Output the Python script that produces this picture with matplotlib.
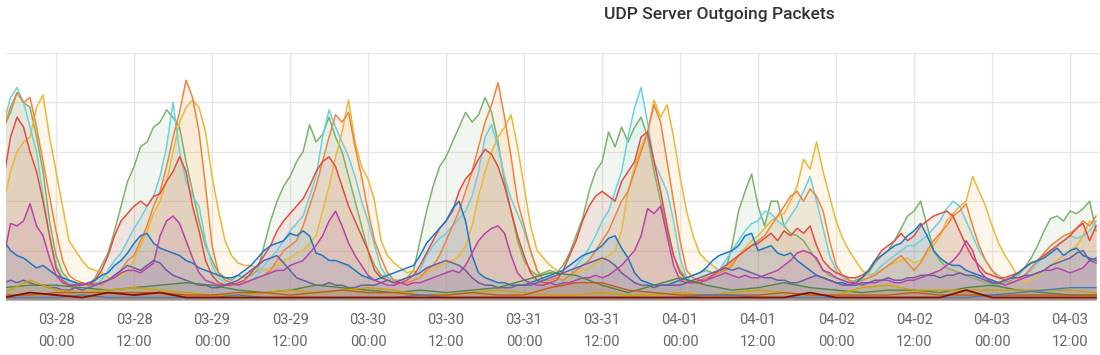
import numpy as np
import matplotlib.pyplot as plt

plt.rcParams['font.family'] = ['Roboto', 'DejaVu Sans']

# hourly samples, hours counted from 03-28 00:00
hours = np.arange(-8, 161)
hours_4h = np.arange(-8, 161, 4)

green = [3.5, 3.8, 4.2, 4.0, 3.9, 3.3, 2.6, 1.6,
         0.9, 0.55, 0.4, 0.35, 0.3, 0.3, 0.45, 0.7, 0.95, 1.4, 1.9, 2.4,
         2.7, 3.1, 3.2, 3.5, 3.6, 3.85, 3.7, 3.5, 2.8, 2.2, 1.6, 1.1,
         0.8, 0.55, 0.45, 0.4, 0.5, 0.45, 0.5, 0.6, 1.1, 1.6, 2.0, 2.3,
         2.5, 2.8, 3.0, 3.55, 3.2, 3.35, 3.7, 3.3, 3.0, 2.5, 2.0, 1.5,
         1.0, 0.7, 0.5, 0.45, 0.4, 0.4, 0.45, 0.6, 1.2, 1.8, 2.3, 2.7,
         2.9, 3.2, 3.5, 3.8, 3.6, 3.75, 4.1, 3.8, 3.2, 2.4, 1.8, 1.2,
         0.8, 0.6, 0.5, 0.55, 0.6, 0.55, 0.7, 0.95, 1.3, 1.65, 2.2, 2.6,
         2.8, 3.4, 3.1, 3.5, 3.2, 3.5, 3.7, 3.3, 2.6, 2.0, 1.4, 0.9,
         0.6, 0.45, 0.5, 0.55, 0.6, 0.55, 0.6, 0.6, 1.1, 1.8, 2.2, 2.55,
         1.9, 1.5, 2.0, 2.0, 1.5, 1.35, 1.3, 1.2, 1.0, 0.8, 0.6, 0.5,
         0.45, 0.4, 0.35, 0.4, 0.45, 0.55, 0.75, 0.9, 1.0, 1.2, 1.45, 1.7,
         1.8, 2.0, 1.5, 1.0, 0.8, 0.65, 0.6, 0.55, 0.5, 0.45, 0.4, 0.35,
         0.35, 0.3, 0.35, 0.4, 0.5, 0.65, 0.85, 1.1, 1.4, 1.65, 1.7, 1.6,
         1.8, 1.75, 1.85, 2.0, 1.4]

yellow = [2.0, 2.6, 3.0, 3.2, 3.3, 3.9, 4.15, 3.3,
          2.6, 1.9, 1.2, 1.0, 0.8, 0.65, 0.6, 0.55, 0.45, 0.45, 0.5, 0.6,
          0.8, 1.1, 1.4, 1.75, 2.0, 2.4, 3.0, 3.6, 3.9, 4.05, 3.9, 3.4,
          2.5, 1.8, 1.2, 0.9, 0.75, 0.7, 0.7, 0.65, 0.6, 0.65, 0.7, 0.8,
          0.85, 0.95, 1.0, 1.15, 1.3, 1.8, 2.3, 2.9, 3.4, 4.05, 3.2, 2.7,
          2.45, 2.0, 1.2, 0.9, 0.75, 0.65, 0.55, 0.6, 0.5, 0.55, 0.6, 0.7,
          0.75, 0.8, 0.9, 1.1, 1.5, 2.1, 2.6, 3.0, 3.3, 3.5, 3.75, 3.1,
          2.3, 1.5, 1.0, 0.85, 0.7, 0.6, 0.55, 0.5, 0.55, 0.6, 0.65, 0.75,
          0.8, 0.9, 1.0, 1.4, 2.2, 2.7, 3.1, 3.4, 4.05, 3.7, 3.95, 3.3,
          2.5, 1.8, 1.3, 0.95, 0.8, 0.7, 0.6, 0.65, 0.75, 0.9, 1.05, 1.2,
          1.3, 1.45, 1.6, 1.7, 1.75, 2.0, 2.3, 2.85, 2.65, 3.2, 2.6, 2.1,
          1.6, 1.25, 1.0, 0.8, 0.6, 0.5, 0.55, 0.6, 0.7, 0.75, 0.8, 0.85,
          0.75, 0.8, 0.95, 1.1, 1.3, 1.6, 1.75, 1.9, 2.0, 2.5, 2.2, 1.9,
          1.5, 1.15, 0.9, 0.7, 0.45, 0.35, 0.4, 0.5, 0.6, 0.7, 0.8, 0.9,
          1.0, 1.1, 1.3, 1.6, 1.5]

cyan = [3.6, 4.1, 4.3, 4.0, 3.5, 3.0, 2.1, 1.3,
        0.7, 0.45, 0.35, 0.3, 0.3, 0.3, 0.3, 0.4, 0.6, 0.8, 0.95, 1.2,
        1.45, 1.65, 1.9, 2.1, 2.5, 3.1, 4.0, 3.0, 2.4, 2.1, 1.9, 1.2,
        0.7, 0.45, 0.35, 0.3, 0.3, 0.35, 0.4, 0.5, 0.7, 0.85, 1.0, 1.2,
        1.4, 1.55, 1.7, 2.1, 2.5, 3.3, 3.85, 3.5, 3.2, 2.9, 2.5, 2.0,
        1.6, 1.1, 0.65, 0.45, 0.4, 0.35, 0.35, 0.4, 0.6, 0.9, 1.1, 1.25,
        1.35, 1.5, 1.65, 1.8, 2.1, 2.6, 3.3, 3.55, 3.1, 2.5, 2.05, 1.75,
        1.4, 1.0, 0.6, 0.4, 0.35, 0.35, 0.4, 0.5, 0.7, 0.85, 1.05, 1.3,
        1.6, 1.8, 2.2, 2.6, 3.3, 3.9, 4.3, 3.6, 2.8, 2.5, 2.2, 1.6,
        0.85, 0.45, 0.35, 0.35, 0.4, 0.45, 0.6, 0.8, 1.0, 1.2, 1.4, 1.55,
        1.6, 1.8, 1.75, 1.6, 1.5, 1.7, 1.9, 2.2, 2.5, 2.0, 1.45, 0.9,
        0.6, 0.45, 0.4, 0.35, 0.4, 0.45, 0.55, 0.7, 0.8, 0.9, 1.0, 1.1,
        1.1, 1.2, 1.3, 1.45, 1.6, 1.85, 2.0, 1.9, 1.6, 1.3, 1.0, 0.8,
        0.6, 0.5, 0.4, 0.35, 0.4, 0.5, 0.6, 0.75, 0.9, 1.0, 1.1, 1.2,
        1.3, 1.25, 1.3, 1.4, 1.6]

orange = [3.5, 3.9, 4.2, 4.0, 4.1, 3.5, 2.8, 2.1,
          1.4, 0.8, 0.5, 0.4, 0.35, 0.3, 0.35, 0.3, 0.4, 0.5, 0.6, 0.8,
          0.9, 1.2, 1.5, 1.9, 2.2, 2.7, 3.3, 3.8, 4.45, 4.1, 3.4, 2.3,
          1.1, 0.55, 0.4, 0.35, 0.3, 0.35, 0.4, 0.45, 0.5, 0.6, 0.8, 1.0,
          1.1, 1.2, 1.5, 1.9, 2.3, 2.8, 3.3, 3.75, 3.6, 3.8, 3.1, 2.5,
          1.8, 1.2, 0.85, 0.55, 0.4, 0.35, 0.35, 0.4, 0.45, 0.6, 0.7, 0.9,
          1.2, 1.5, 1.8, 2.2, 2.6, 3.1, 3.6, 3.95, 4.4, 3.7, 2.9, 2.0,
          1.5, 1.0, 0.6, 0.4, 0.4, 0.45, 0.4, 0.5, 0.6, 0.7, 0.8, 1.0,
          1.2, 1.4, 1.7, 2.0, 2.2, 2.6, 3.0, 3.4, 3.95, 3.6, 2.8, 2.0,
          1.2, 0.6, 0.45, 0.4, 0.45, 0.5, 0.55, 0.6, 0.7, 0.9, 1.0, 1.1,
          1.2, 1.3, 1.5, 1.7, 1.9, 2.1, 2.2, 2.0, 2.25, 2.1, 1.8, 1.2,
          0.7, 0.5, 0.4, 0.35, 0.4, 0.45, 0.5, 0.6, 0.7, 0.8, 0.9, 0.75,
          0.6, 0.75, 1.0, 1.2, 1.35, 1.5, 1.7, 1.8, 1.95, 1.5, 1.1, 0.8,
          0.6, 0.45, 0.4, 0.35, 0.4, 0.5, 0.65, 0.8, 0.95, 1.1, 1.2, 1.3,
          1.35, 1.45, 1.6, 1.5, 1.7]

red = [2.5, 3.3, 3.7, 3.5, 3.0, 2.6, 2.0, 1.3,
       0.65, 0.4, 0.3, 0.3, 0.35, 0.3, 0.4, 0.6, 0.9, 1.3, 1.6, 1.75,
       1.9, 2.0, 1.9, 2.1, 2.15, 2.4, 2.6, 2.9, 2.6, 1.9, 1.4, 0.8,
       0.5, 0.35, 0.3, 0.3, 0.35, 0.4, 0.55, 0.7, 0.9, 1.1, 1.4, 1.6,
       1.75, 1.9, 2.05, 2.3, 2.6, 2.8, 2.9, 2.7, 2.3, 1.9, 1.6, 1.3,
       1.0, 0.6, 0.45, 0.4, 0.35, 0.35, 0.4, 0.5, 0.7, 0.95, 1.2, 1.45,
       1.6, 1.8, 2.2, 2.45, 2.6, 2.85, 3.05, 2.95, 2.7, 2.3, 1.8, 1.3,
       0.9, 0.55, 0.4, 0.35, 0.35, 0.4, 0.6, 0.9, 1.2, 1.6, 1.9, 2.1,
       2.2, 2.1, 2.0, 2.4, 2.6, 2.8, 3.3, 3.4, 2.8, 2.2, 1.5, 0.9,
       0.55, 0.4, 0.35, 0.35, 0.4, 0.5, 0.6, 0.7, 0.8, 0.9, 1.0, 1.1,
       1.15, 1.25, 1.35, 1.2, 1.4, 1.3, 1.45, 1.35, 1.5, 1.1, 0.8, 0.65,
       0.55, 0.5, 0.45, 0.45, 0.5, 0.6, 0.8, 1.0, 1.1, 1.2, 1.35, 1.2,
       1.3, 1.5, 1.6, 1.7, 1.75, 1.8, 1.7, 1.4, 1.1, 0.85, 0.7, 0.55,
       0.5, 0.45, 0.45, 0.5, 0.55, 0.65, 0.75, 0.8, 0.9, 1.0, 1.1, 1.2,
       1.3, 1.45, 1.55, 1.2, 1.5]

blue = [1.2, 1.0, 0.9, 0.85, 0.75, 0.65, 0.7, 0.6,
        0.5, 0.45, 0.4, 0.35, 0.3, 0.35, 0.4, 0.5, 0.55, 0.7, 0.8, 0.95,
        1.15, 1.3, 1.35, 1.15, 1.05, 1.0, 0.95, 0.9, 0.8, 0.75, 0.65, 0.6,
        0.55, 0.5, 0.45, 0.45, 0.5, 0.6, 0.7, 0.85, 1.0, 1.1, 1.15, 1.2,
        1.35, 1.3, 1.4, 1.3, 0.95, 0.9, 0.8, 0.8, 0.75, 0.7, 0.6, 0.5,
        0.45, 0.4, 0.45, 0.5, 0.55, 0.6, 0.65, 0.7, 0.9, 1.15, 1.3, 1.45,
        1.6, 1.85, 2.0, 1.6, 0.9, 0.55, 0.45, 0.4, 0.35, 0.35, 0.3, 0.3,
        0.3, 0.35, 0.4, 0.45, 0.5, 0.55, 0.6, 0.7, 0.8, 0.9, 0.95, 1.0,
        1.1, 1.25, 1.3, 1.05, 0.85, 0.55, 0.4, 0.35, 0.3, 0.3, 0.3, 0.35,
        0.4, 0.45, 0.5, 0.55, 0.65, 0.8, 0.9, 0.95, 1.0, 1.1, 1.3, 1.35,
        1.0, 1.05, 1.1, 0.95, 0.9, 0.95, 0.8, 0.7, 0.6, 0.5, 0.45, 0.4,
        0.35, 0.35, 0.3, 0.35, 0.45, 0.6, 0.8, 0.9, 1.0, 1.1, 1.15, 1.3,
        1.4, 1.55, 1.3, 1.0, 0.85, 0.75, 0.7, 0.7, 0.6, 0.55, 0.5, 0.45,
        0.4, 0.35, 0.4, 0.45, 0.55, 0.65, 0.75, 0.8, 0.85, 0.95, 1.05, 0.9,
        1.0, 1.05, 0.9, 0.85, 0.8]

magenta = [0.9, 1.55, 1.5, 1.6, 1.95, 1.5, 1.3, 0.85,
           0.5, 0.35, 0.3, 0.3, 0.3, 0.35, 0.3, 0.35, 0.4, 0.45, 0.55, 0.6,
           0.6, 0.55, 0.65, 0.75, 1.3, 1.6, 1.7, 1.55, 1.2, 0.85, 0.55, 0.4,
           0.35, 0.3, 0.3, 0.35, 0.3, 0.35, 0.4, 0.45, 0.5, 0.55, 0.6, 0.6,
           0.7, 0.75, 0.8, 0.95, 1.1, 1.3, 1.6, 1.8, 1.5, 1.15, 0.9, 0.7,
           0.5, 0.4, 0.35, 0.3, 0.3, 0.35, 0.3, 0.35, 0.35, 0.4, 0.45, 0.5,
           0.55, 0.6, 0.55, 0.7, 0.95, 1.2, 1.35, 1.45, 1.5, 1.35, 0.9, 0.55,
           0.4, 0.35, 0.3, 0.3, 0.35, 0.3, 0.35, 0.35, 0.4, 0.45, 0.45, 0.5,
           0.45, 0.5, 0.6, 0.7, 0.85, 1.0, 1.3, 1.85, 1.75, 1.9, 1.3, 0.7,
           0.4, 0.35, 0.35, 0.4, 0.4, 0.45, 0.5, 0.55, 0.5, 0.45, 0.5, 0.45,
           0.45, 0.5, 0.55, 0.6, 0.7, 0.8, 0.95, 1.0, 0.95, 0.85, 0.6, 0.55,
           0.45, 0.4, 0.35, 0.35, 0.3, 0.35, 0.35, 0.4, 0.4, 0.35, 0.35, 0.4,
           0.4, 0.45, 0.5, 0.55, 0.6, 0.7, 0.8, 0.95, 1.2, 1.0, 0.6, 0.45,
           0.35, 0.35, 0.3, 0.35, 0.4, 0.45, 0.5, 0.55, 0.6, 0.6, 0.65, 0.6,
           0.55, 0.6, 0.65, 0.8, 0.75]

purple = [0.35, 0.4, 0.35, 0.4, 0.35, 0.3, 0.3, 0.25,
          0.25, 0.2, 0.2, 0.25, 0.2, 0.25, 0.3, 0.35, 0.4, 0.5, 0.6, 0.7,
          0.65, 0.6, 0.7, 0.8, 0.75, 0.6, 0.5, 0.45, 0.4, 0.35, 0.3, 0.3,
          0.25, 0.25, 0.3, 0.35, 0.4, 0.5, 0.6, 0.7, 0.8, 0.85, 0.9, 0.75,
          0.6, 0.45, 0.4, 0.35, 0.3, 0.3, 0.35, 0.3, 0.3, 0.25, 0.25, 0.3,
          0.3, 0.3, 0.35, 0.4, 0.35, 0.4, 0.45, 0.5, 0.55, 0.65, 0.7, 0.75,
          0.8, 0.75, 0.7, 0.6, 0.45, 0.35, 0.3, 0.3, 0.25, 0.25, 0.25, 0.3,
          0.3, 0.3, 0.35, 0.4, 0.45, 0.5, 0.55, 0.6, 0.65, 0.7, 0.75, 0.8,
          0.85, 0.8, 0.7, 0.55, 0.45, 0.35, 0.3, 0.3, 0.25, 0.3, 0.3, 0.3,
          0.3, 0.35, 0.4, 0.45, 0.5, 0.55, 0.6, 0.65, 0.6, 0.65, 0.6, 0.55,
          0.5, 0.45, 0.45, 0.4, 0.4, 0.35, 0.35, 0.4, 0.45, 0.5, 0.45, 0.4,
          0.35, 0.3, 0.3, 0.3, 0.35, 0.35, 0.4, 0.4, 0.45, 0.4, 0.4, 0.45,
          0.45, 0.5, 0.5, 0.5, 0.45, 0.5, 0.5, 0.55, 0.5, 0.5, 0.45, 0.4,
          0.35, 0.35, 0.4, 0.45, 0.45, 0.5, 0.5, 0.55, 0.6, 0.7, 0.75, 0.8,
          0.85, 0.95, 1.0, 0.8, 0.85]

# small series, 4-hour samples
dark_green = [0.25, 0.3, 0.3, 0.25, 0.2, 0.25, 0.3, 0.35, 0.3, 0.2,
              0.15, 0.2, 0.3, 0.25, 0.2, 0.15, 0.2, 0.15, 0.2, 0.25,
              0.4, 0.55, 0.5, 0.3, 0.15, 0.3, 0.45, 0.3, 0.2, 0.25,
              0.35, 0.25, 0.2, 0.15, 0.2, 0.2, 0.15, 0.25, 0.3, 0.2,
              0.15, 0.1, 0.1]
dark_yellow = [0.15, 0.4, 0.2, 0.15, 0.2, 0.25, 0.2, 0.15, 0.1, 0.1,
               0.15, 0.2, 0.15, 0.2, 0.25, 0.2, 0.1, 0.1, 0.15, 0.2,
               0.15, 0.1, 0.1, 0.15, 0.1, 0.1, 0.15, 0.1, 0.15, 0.2,
               0.15, 0.1, 0.1, 0.25, 0.3, 0.2, 0.2, 0.2, 0.2, 0.2,
               0.2, 0.2, 0.15]
brown = [0.1, 0.1, 0.15, 0.15, 0.15, 0.15, 0.15, 0.1, 0.1, 0.15,
         0.15, 0.1, 0.15, 0.2, 0.15, 0.15, 0.1, 0.1, 0.15, 0.1,
         0.1, 0.25, 0.35, 0.35, 0.2, 0.15, 0.1, 0.1, 0.1, 0.1,
         0.15, 0.1, 0.1, 0.1, 0.1, 0.15, 0.1, 0.1, 0.1, 0.1,
         0.1, 0.1, 0.1]
small_blue = [0.05, 0.05, 0.05, 0.1, 0.05, 0.05, 0.05, 0.05, 0.05, 0.1,
              0.05, 0.05, 0.05, 0.05, 0.05, 0.05, 0.1, 0.05, 0.05, 0.05,
              0.05, 0.05, 0.05, 0.05, 0.05, 0.05, 0.05, 0.1, 0.1, 0.05,
              0.05, 0.05, 0.05, 0.05, 0.05, 0.05, 0.05, 0.05, 0.1, 0.15,
              0.2, 0.25, 0.25]
dark_red = [0.05, 0.15, 0.1, 0.05, 0.15, 0.1, 0.15, 0.05, 0.05, 0.05,
            0.05, 0.05, 0.05, 0.05, 0.05, 0.05, 0.05, 0.05, 0.05, 0.05,
            0.05, 0.05, 0.05, 0.05, 0.05, 0.05, 0.05, 0.05, 0.05, 0.05,
            0.05, 0.15, 0.05, 0.05, 0.05, 0.05, 0.05, 0.2, 0.05, 0.05,
            0.05, 0.05, 0.05]

tick_hours = [0, 12, 24, 36, 48, 60, 72, 84, 96, 108, 120, 132, 144, 156]
tick_labels = ["03-28\n00:00", "03-28\n12:00", "03-29\n00:00", "03-29\n12:00",
               "03-30\n00:00", "03-30\n12:00", "03-31\n00:00", "03-31\n12:00",
               "04-01\n00:00", "04-01\n12:00", "04-02\n00:00", "04-02\n12:00",
               "04-03\n00:00", "04-03\n12:00"]

hourly = [(green, "#7EB26D"), (yellow, "#EAB839"), (cyan, "#6ED0E0"),
          (orange, "#EF843C"), (red, "#E24D42"), (blue, "#1F78C1"),
          (magenta, "#BA43A9"), (purple, "#705DA0")]
coarse = [(dark_green, "#508642"), (dark_yellow, "#CCA300"),
          (brown, "#C15C17"), (small_blue, "#447EBC"), (dark_red, "#890F02")]

fig = plt.figure(figsize=(11, 3.55), dpi=100)
ax = fig.add_axes([6 / 1100, 55 / 355, 1094 / 1100, 247 / 355])

for vals, c in hourly:
    ax.fill_between(hours, vals, color=c, alpha=0.1, lw=0)
    ax.plot(hours, vals, color=c, lw=1.1)
for vals, c in coarse:
    ax.fill_between(hours_4h, vals, color=c, alpha=0.1, lw=0)
    ax.plot(hours_4h, vals, color=c, lw=1.3 if c == "#890F02" else 1.0)

ax.set_xlim(-7.7, 160.6)
ax.set_ylim(0, 5)
ax.set_yticks([1, 2, 3, 4, 5])
ax.set_yticklabels([])
ax.set_xticks(tick_hours, tick_labels)
ax.tick_params(axis='both', length=0)
ax.tick_params(axis='x', pad=9, labelsize=10.5, labelcolor='#666666')
for lab in ax.get_xticklabels():
    lab.set_linespacing(1.75)
ax.grid(True, color='#e6e6e6', lw=1)
ax.set_axisbelow(True)
for s in ax.spines.values():
    s.set_visible(False)

fig.text(719 / 1100, 1 - 15 / 355, "UDP Server Outgoing Packets",
         ha='center', va='center', fontsize=12.5, fontweight='medium', color='#333333')

fig.savefig("out.png", dpi=100)
